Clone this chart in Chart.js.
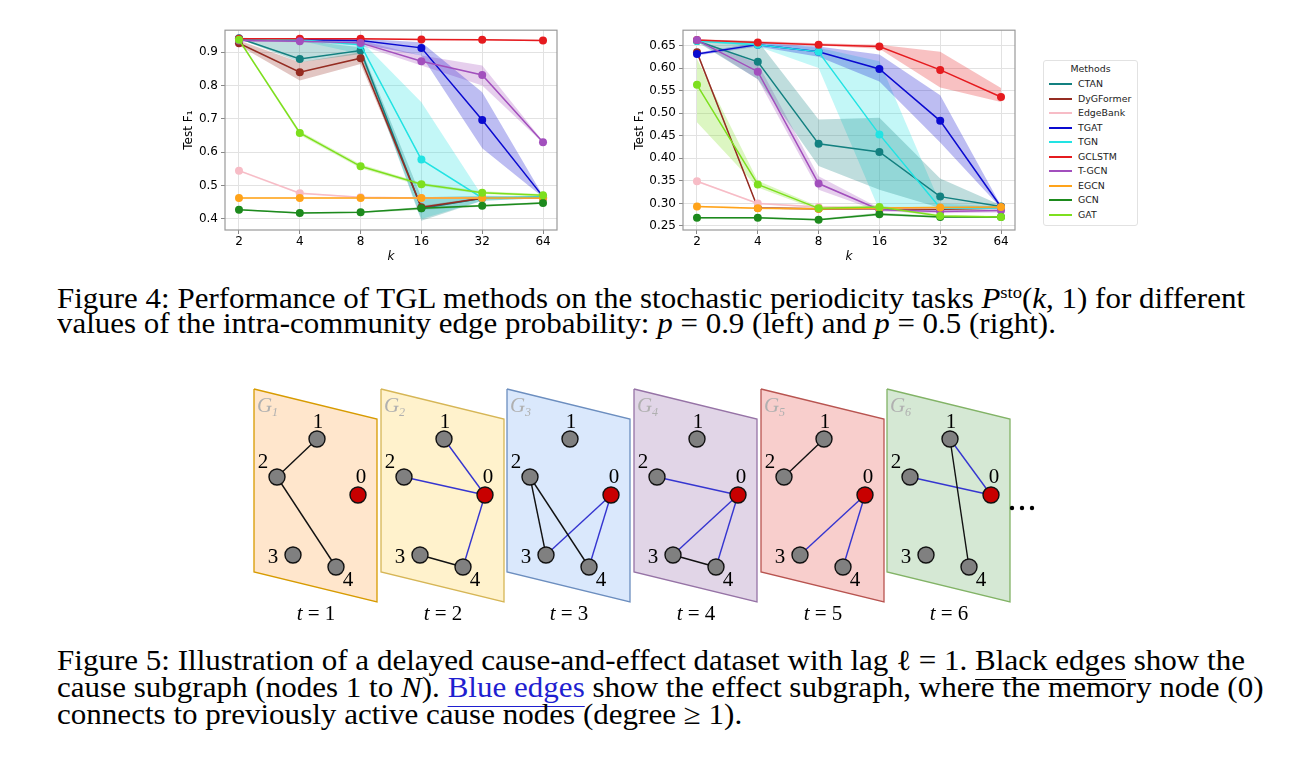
<!DOCTYPE html>
<html>
<head>
<meta charset="utf-8">
<script src="https://cdn.jsdelivr.net/npm/chart.js@4.4.1/dist/chart.umd.min.js"></script>
<style>
  body { margin: 0; background: #fff; }
  #page { position: relative; width: 1301px; height: 779px; overflow: hidden; }
  canvas { position: absolute; }
  .cap { position: absolute; left: 57px; font-family: "Liberation Serif", "Times New Roman", Times, serif; font-size: 29px; line-height: 1; white-space: nowrap; transform-origin: 0 0; color: #000; }
  .cap sup { font-size: 60%; vertical-align: 0.55em; line-height: 0; }
  .link { text-decoration: underline; text-decoration-thickness: 1px; text-underline-offset: 9px; }
  .legend { position: absolute; left: 1043px; top: 60px; width: 95px; height: 166px; border: 1px solid #e2e2e2; border-radius: 3px; box-sizing: border-box; font-family: "DejaVu Sans", sans-serif; font-size: 9.4px; color: #222; }
  .legend .title { position: absolute; left: 0; width: 100%; top: 2px; text-align: center; }
  .legend .item { position: absolute; left: 0; width: 100%; height: 12px; }
  .legend .swatch { position: absolute; left: 5px; top: 5px; width: 23px; height: 2px; }
  .legend .name { position: absolute; left: 34px; top: 0; line-height: 12px; }
</style>
</head>
<body>
<div id="page">
  <canvas id="leftChart" width="410" height="255" style="left:160px;top:20px"></canvas>
  <canvas id="rightChart" width="420" height="255" style="left:610px;top:20px"></canvas>
  <div class="legend" id="legend"></div>

  <div class="cap fig4" style="top:284px">Figure 4: Performance of TGL methods on the stochastic periodicity tasks <i>P</i><sup>sto</sup>(<i>k</i>, 1) for different</div>
  <div class="cap fig4" style="top:309px">values of the intra-community edge probability: <i>p</i> = 0.9 (left) and <i>p</i> = 0.5 (right).</div>

  <canvas id="graphFig" width="820" height="250" style="left:240px;top:380px"></canvas>

  <div class="cap fig5" style="top:646px">Figure 5: Illustration of a delayed cause-and-effect dataset with lag ℓ = 1. <span class="link">Black edges</span> show the</div>
  <div class="cap fig5" style="top:673px">cause subgraph (nodes 1 to <i>N</i>). <span class="link" style="color:#1f1fd0">Blue edges</span> show the effect subgraph, where the memory node (0)</div>
  <div class="cap fig5" style="top:700px">connects to previously active cause nodes (degree ≥ 1).</div>
</div>
<script>
// ---- Figure 4 data ----
const kTicks = [2, 4, 8, 16, 32, 64];
const methods = ["CTAN", "DyGFormer", "EdgeBank", "TGAT", "TGN", "GCLSTM", "T-GCN", "EGCN", "GCN", "GAT"];
const colors = ["#138080", "#952c22", "#f7bcc6", "#0a0ad0", "#22e3e3", "#e51b1f", "#a24fbd", "#ffa31a", "#1d8a1d", "#7ddf1e"];

// p = 0.9 (left)
const leftF1 = [
  [0.942, 0.880, 0.905, 0.432, 0.462, 0.465],
  [0.927, 0.840, 0.882, 0.435, 0.462, 0.462],
  [0.545, 0.477, 0.465, 0.463, 0.463, 0.463],
  [0.940, 0.937, 0.935, 0.913, 0.697, 0.467],
  [0.940, 0.937, 0.922, 0.578, 0.463, 0.465],
  [0.940, 0.940, 0.940, 0.938, 0.937, 0.935],
  [0.935, 0.933, 0.928, 0.873, 0.832, 0.630],
  [0.463, 0.463, 0.463, 0.463, 0.463, 0.463],
  [0.428, 0.418, 0.420, 0.432, 0.440, 0.448],
  [0.937, 0.658, 0.558, 0.504, 0.479, 0.471],
];
const leftLow = [
  [0.940, 0.870, 0.895, 0.395, 0.455, 0.462],
  [0.920, 0.815, 0.865, 0.430, 0.460, 0.460],
  [0.542, 0.474, 0.463, 0.461, 0.461, 0.461],
  [0.938, 0.934, 0.925, 0.890, 0.612, 0.465],
  [0.938, 0.934, 0.895, 0.400, 0.455, 0.462],
  [0.938, 0.938, 0.938, 0.936, 0.935, 0.933],
  [0.932, 0.930, 0.920, 0.860, 0.800, 0.628],
  [0.461, 0.461, 0.461, 0.461, 0.461, 0.461],
  [0.426, 0.416, 0.418, 0.428, 0.437, 0.445],
  [0.933, 0.652, 0.552, 0.499, 0.475, 0.467],
];
const leftHigh = [
  [0.944, 0.935, 0.915, 0.465, 0.470, 0.468],
  [0.935, 0.870, 0.900, 0.440, 0.465, 0.465],
  [0.548, 0.480, 0.467, 0.465, 0.465, 0.465],
  [0.942, 0.940, 0.940, 0.930, 0.780, 0.470],
  [0.942, 0.940, 0.935, 0.750, 0.470, 0.468],
  [0.942, 0.942, 0.942, 0.940, 0.939, 0.937],
  [0.938, 0.937, 0.935, 0.890, 0.860, 0.633],
  [0.465, 0.465, 0.465, 0.465, 0.465, 0.465],
  [0.430, 0.420, 0.422, 0.436, 0.443, 0.451],
  [0.941, 0.664, 0.564, 0.509, 0.483, 0.475],
];
const leftYTicks = [0.4, 0.5, 0.6, 0.7, 0.8, 0.9];

// p = 0.5 (right)
const rightF1 = [
  [0.660, 0.614, 0.432, 0.414, 0.315, 0.293],
  [0.635, 0.290, 0.288, 0.288, 0.287, 0.290],
  [0.349, 0.300, 0.292, 0.290, 0.290, 0.290],
  [0.631, 0.652, 0.636, 0.598, 0.483, 0.292],
  [0.660, 0.652, 0.636, 0.453, 0.290, 0.290],
  [0.662, 0.657, 0.652, 0.648, 0.596, 0.536],
  [0.662, 0.592, 0.344, 0.286, 0.282, 0.284],
  [0.293, 0.289, 0.288, 0.290, 0.291, 0.292],
  [0.268, 0.268, 0.264, 0.276, 0.270, 0.270],
  [0.563, 0.342, 0.289, 0.292, 0.272, 0.270],
];
const rightLow = [
  [0.658, 0.575, 0.383, 0.330, 0.290, 0.290],
  [0.630, 0.288, 0.286, 0.286, 0.285, 0.288],
  [0.347, 0.298, 0.290, 0.288, 0.288, 0.288],
  [0.628, 0.648, 0.625, 0.570, 0.435, 0.290],
  [0.658, 0.648, 0.600, 0.285, 0.285, 0.287],
  [0.660, 0.655, 0.650, 0.643, 0.557, 0.525],
  [0.660, 0.575, 0.330, 0.282, 0.278, 0.280],
  [0.291, 0.287, 0.286, 0.288, 0.289, 0.290],
  [0.266, 0.266, 0.262, 0.273, 0.268, 0.268],
  [0.480, 0.335, 0.285, 0.288, 0.270, 0.268],
];
const rightHigh = [
  [0.663, 0.660, 0.486, 0.490, 0.355, 0.296],
  [0.640, 0.292, 0.290, 0.290, 0.289, 0.292],
  [0.351, 0.302, 0.294, 0.292, 0.292, 0.292],
  [0.634, 0.657, 0.648, 0.630, 0.540, 0.295],
  [0.663, 0.657, 0.645, 0.615, 0.300, 0.293],
  [0.664, 0.660, 0.655, 0.652, 0.636, 0.556],
  [0.664, 0.610, 0.360, 0.290, 0.286, 0.288],
  [0.295, 0.291, 0.290, 0.292, 0.293, 0.294],
  [0.270, 0.270, 0.266, 0.279, 0.272, 0.272],
  [0.620, 0.350, 0.293, 0.296, 0.275, 0.272],
];
const rightYTicks = [0.25, 0.30, 0.35, 0.40, 0.45, 0.50, 0.55, 0.60, 0.65];

// ---- Figure 5 data ----
const panelColors = ["#ffe6cc", "#fff2cc", "#dae8fc", "#e1d5e7", "#f8cecc", "#d5e8d4"];
const panelBorders = ["#d79b00", "#d6b656", "#6c8ebf", "#9673a6", "#b85450", "#82b366"];
const nodeIds = [0, 1, 2, 3, 4];
const causeEdges = [[[1, 2], [2, 4]], [[3, 4]], [[2, 3], [2, 4]], [[3, 4]], [[1, 2]], [[1, 4]]];
const effectEdges = [[], [[0, 1], [0, 2], [0, 4]], [[0, 3], [0, 4]], [[0, 2], [0, 3], [0, 4]], [[0, 3], [0, 4]], [[0, 1], [0, 2]]];
const timeSteps = [1, 2, 3, 4, 5, 6];

// layout of the drawing (pixels in the figure canvas)
const panelLeft = [14, 141, 267, 394, 521, 647];
const panelShape = [[0, 9], [123, 39], [123, 222], [0, 192], [0, 9]];
const nodePos = { 0: [104, 115], 1: [63, 59], 2: [23, 97], 3: [39, 175], 4: [82, 187] };
const nodeLabelPos = { 0: [107, 97], 1: [64, 42], 2: [9, 82], 3: [19, 177], 4: [94, 200] };

const font = "'DejaVu Sans', sans-serif";

const framePlugin = {
  id: "frame",
  afterDatasetsDraw(chart) {
    const { ctx, chartArea: a } = chart;
    ctx.save();
    ctx.strokeStyle = "#9a9a9a";
    ctx.lineWidth = 1.2;
    ctx.strokeRect(a.left, a.top, a.right - a.left, a.bottom - a.top);
    ctx.restore();
  },
};

const withAlpha = (hex, a) => {
  const n = parseInt(hex.slice(1), 16);
  return `rgba(${n >> 16}, ${(n >> 8) & 255}, ${n & 255}, ${a})`;
};

const toPoints = (arr) => arr.map((v, i) => ({ x: i, y: v }));

const makeChart = (id, values, lows, highs, yTicks, yMin, yMax, decimals, yWidth, titlePad, rightPad) => {
  const datasets = [];
  methods.forEach((m, i) => {
    datasets.push({ label: m + " high", data: toPoints(highs[i]), borderWidth: 0, pointRadius: 0, fill: false, order: 100 });
    datasets.push({
      label: m + " low", data: toPoints(lows[i]), borderWidth: 0, pointRadius: 0,
      fill: "-1", backgroundColor: withAlpha(colors[i], 0.27), order: 100,
    });
  });
  methods.forEach((m, i) => {
    datasets.push({
      label: m, data: toPoints(values[i]), borderColor: colors[i], backgroundColor: colors[i],
      borderWidth: 1.5, pointRadius: 4, pointBorderWidth: 0, fill: false, order: 50 - i,
    });
  });

  return new Chart(document.getElementById(id), {
    type: "line",
    data: { datasets },
    options: {
      responsive: false,
      animation: false,
      layout: { autoPadding: false, padding: { top: 10, right: rightPad, left: 0, bottom: 0 } },
      plugins: { legend: { display: false }, tooltip: { enabled: false } },
      scales: {
        x: {
          type: "linear", min: -0.23, max: 5.23,
          afterBuildTicks: (s) => { s.ticks = kTicks.map((k, i) => ({ value: i })); },
          afterFit: (s) => { s.height = 45; },
          ticks: { callback: (v) => kTicks[v], font: { family: font, size: 12 }, color: "#000", padding: 1, maxRotation: 0 },
          grid: { color: "#e2e2e2", tickColor: "#888", tickLength: 4 },
          border: { display: false },
          title: { display: true, text: "k", font: { family: font, size: 12, style: "italic" }, color: "#000", padding: { top: 0, bottom: 11 } },
        },
        y: {
          min: yMin, max: yMax,
          afterBuildTicks: (s) => { s.ticks = yTicks.map((v) => ({ value: v })); },
          afterFit: (s) => { s.width = yWidth; },
          ticks: { callback: (v) => v.toFixed(decimals), font: { family: font, size: 12 }, color: "#000", padding: 3 },
          grid: { color: "#e2e2e2", tickColor: "#888", tickLength: 4 },
          border: { display: false },
          title: { display: true, text: "Test F₁", font: { family: font, size: 12 }, color: "#000", padding: { top: titlePad, bottom: 0 } },
        },
      },
    },
    plugins: [framePlugin],
  });
};

makeChart("leftChart", leftF1, leftLow, leftHigh, leftYTicks, 0.367, 0.966, 1, 65, 22, 13);
makeChart("rightChart", rightF1, rightLow, rightHigh, rightYTicks, 0.241, 0.684, 2, 73, 23, 15);

// legend box, built from the method list
const legend = document.getElementById("legend");
const title = document.createElement("div");
title.className = "title";
title.textContent = "Methods";
legend.appendChild(title);
methods.forEach((m, i) => {
  const item = document.createElement("div");
  item.className = "item";
  item.style.top = (17 + i * 14.5) + "px";
  const sw = document.createElement("div");
  sw.className = "swatch";
  sw.style.background = colors[i];
  const name = document.createElement("div");
  name.className = "name";
  name.textContent = m;
  item.appendChild(sw);
  item.appendChild(name);
  legend.appendChild(item);
});

// ---- Figure 5 drawing ----
const graphSets = [];
timeSteps.forEach((t, p) => {
  const ox = panelLeft[p];
  graphSets.push({
    data: panelShape.map(([x, y]) => ({ x: ox + x, y })),
    showLine: true, fill: "shape", backgroundColor: panelColors[p], borderColor: panelBorders[p],
    borderWidth: 1.3, pointRadius: 0, order: 30, clip: false,
  });
  causeEdges[p].forEach(([a, b]) => {
    graphSets.push({
      data: [{ x: ox + nodePos[a][0], y: nodePos[a][1] }, { x: ox + nodePos[b][0], y: nodePos[b][1] }],
      showLine: true, borderColor: "#111", borderWidth: 1.4, pointRadius: 0, order: 20, clip: false,
    });
  });
  effectEdges[p].forEach(([a, b]) => {
    graphSets.push({
      data: [{ x: ox + nodePos[a][0], y: nodePos[a][1] }, { x: ox + nodePos[b][0], y: nodePos[b][1] }],
      showLine: true, borderColor: "#3535d0", borderWidth: 1.4, pointRadius: 0, order: 20, clip: false,
    });
  });
  graphSets.push({
    data: nodeIds.map((n) => ({ x: ox + nodePos[n][0], y: nodePos[n][1] })),
    showLine: false, pointRadius: 8, pointBorderWidth: 1.4, pointBorderColor: "#111",
    pointBackgroundColor: nodeIds.map((n) => (n === 0 ? "#c80000" : "#808080")), order: 10, clip: false,
  });
});

const graphLabels = {
  id: "graphLabels",
  afterDatasetsDraw(chart) {
    const { ctx, scales: { x, y } } = chart;
    const serif = "'Liberation Serif', 'DejaVu Serif', serif";
    ctx.save();
    timeSteps.forEach((t, p) => {
      const ox = panelLeft[p];
      ctx.fillStyle = "#000";
      ctx.font = "21px " + serif;
      ctx.textAlign = "center";
      ctx.textBaseline = "middle";
      nodeIds.forEach((n) => {
        ctx.fillText(String(n), x.getPixelForValue(ox + nodeLabelPos[n][0]), y.getPixelForValue(nodeLabelPos[n][1]));
      });
      // G_t label
      ctx.fillStyle = "#b0b0b0";
      ctx.textAlign = "left";
      ctx.textBaseline = "alphabetic";
      ctx.font = "italic 21px " + serif;
      const gx = x.getPixelForValue(ox + 3);
      const gy = y.getPixelForValue(32);
      ctx.fillText("G", gx, gy);
      ctx.font = "italic 12px " + serif;
      ctx.fillText(String(t), gx + 15, gy + 4);
      // t = i caption
      ctx.fillStyle = "#000";
      const label = " = " + t;
      ctx.font = "italic 21px " + serif;
      const wt = ctx.measureText("t").width;
      ctx.font = "21px " + serif;
      const wr = ctx.measureText(label).width;
      const cx = x.getPixelForValue(ox + 62) - (wt + wr) / 2;
      const cy = y.getPixelForValue(240);
      ctx.font = "italic 21px " + serif;
      ctx.fillText("t", cx, cy);
      ctx.font = "21px " + serif;
      ctx.fillText(label, cx + wt, cy);
    });
    // trailing dots
    ctx.fillStyle = "#000";
    [772, 782, 792].forEach((dx) => {
      ctx.beginPath();
      ctx.arc(x.getPixelForValue(dx), y.getPixelForValue(128), 2.2, 0, Math.PI * 2);
      ctx.fill();
    });
    ctx.restore();
  },
};

new Chart(document.getElementById("graphFig"), {
  type: "scatter",
  data: { datasets: graphSets },
  options: {
    responsive: false,
    animation: false,
    layout: { autoPadding: false, padding: 0 },
    plugins: { legend: { display: false }, tooltip: { enabled: false } },
    scales: {
      x: { type: "linear", min: 0, max: 820, display: false },
      y: { type: "linear", min: 0, max: 250, reverse: true, display: false },
    },
  },
  plugins: [graphLabels],
});

// stretch each caption so its first line fills the text width
const fitCaption = (cls) => {
  const lines = document.querySelectorAll(".cap." + cls);
  const s = 1188 / lines[0].getBoundingClientRect().width;
  lines.forEach((el) => { el.style.transform = `scaleX(${s})`; });
};
fitCaption("fig4");
fitCaption("fig5");
</script>
</body>
</html>
